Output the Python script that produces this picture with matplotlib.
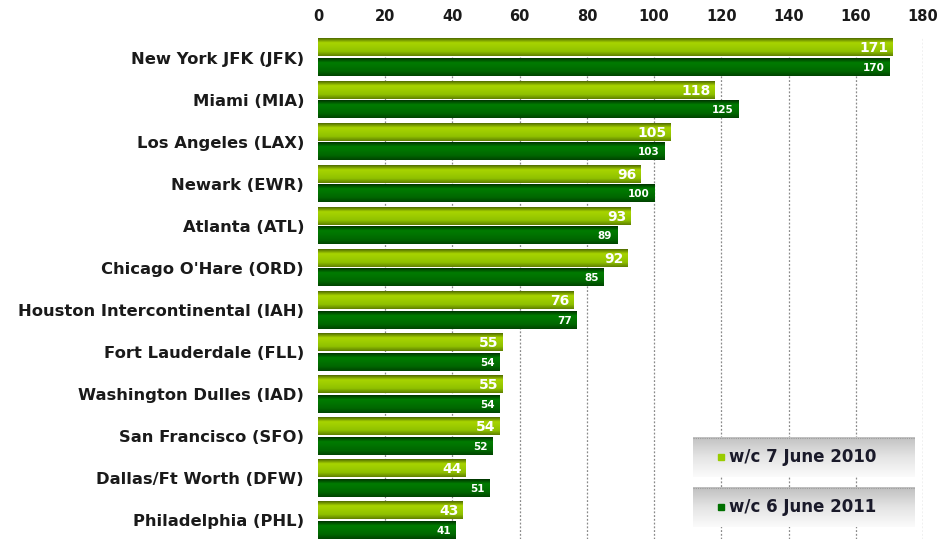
import numpy as np
import matplotlib
matplotlib.use("Agg")
import matplotlib.pyplot as plt
from matplotlib.colors import LinearSegmentedColormap

airports = ["New York JFK (JFK)", "Miami (MIA)", "Los Angeles (LAX)", "Newark (EWR)",
            "Atlanta (ATL)", "Chicago O'Hare (ORD)", "Houston Intercontinental (IAH)",
            "Fort Lauderdale (FLL)", "Washington Dulles (IAD)", "San Francisco (SFO)",
            "Dallas/Ft Worth (DFW)", "Philadelphia (PHL)"]
w2010 = [171, 118, 105, 96, 93, 92, 76, 55, 55, 54, 44, 43]
w2011 = [170, 125, 103, 100, 89, 85, 77, 54, 54, 52, 51, 41]
series_names = ["w/c 7 June 2010", "w/c 6 June 2011"]
xticks = list(range(0, 181, 20))

light_cmap = LinearSegmentedColormap.from_list(
    "light", ["#4f6a00", "#a8d400", "#9ccc00", "#8fc000", "#5f8000"])
dark_cmap = LinearSegmentedColormap.from_list(
    "dark", ["#003300", "#007c00", "#007200", "#006600", "#004400"])
grad = np.linspace(0, 1, 64).reshape(-1, 1)

W, H = 940, 539
fig = plt.figure(figsize=(W / 100, H / 100), dpi=100)
ax = fig.add_axes([318 / W, 0, (923 - 318) / W, 1 - 38 / H])

for x in xticks:
    if x > 0:
        ax.axvline(x, color="#8a8a8a", lw=0.9, ls=(0, (1.5, 1.5)), zorder=0)

h = 0.42
off = 0.235
for i, (a, b) in enumerate(zip(w2010, w2011)):
    y1 = i - off
    ax.imshow(grad, cmap=light_cmap, aspect="auto", extent=(0, a, y1 + h / 2, y1 - h / 2), zorder=2)
    ax.text(a - 1.2, y1 + 0.02, str(a), color="white", fontsize=10, fontweight="bold",
            ha="right", va="center", zorder=3)
    y2 = i + off
    ax.imshow(grad, cmap=dark_cmap, aspect="auto", extent=(0, b, y2 + h / 2, y2 - h / 2), zorder=2)
    ax.text(b - 1.5, y2 + 0.02, str(b), color="white", fontsize=7.5, fontweight="bold",
            ha="right", va="center", zorder=3)

ax.set_xlim(0, 180)
ax.set_ylim(11.45, -0.464)
ax.set_yticks(range(len(airports)))
ax.set_yticklabels(airports, fontsize=11.8, fontweight="bold", color="#1a1a1a")
ax.set_xticks(xticks)
ax.set_xticklabels([str(t) for t in xticks], fontsize=10.5, fontweight="bold", color="#1a1a1a")
ax.xaxis.tick_top()
ax.tick_params(axis="x", length=0, pad=10)
ax.tick_params(axis="y", length=0, pad=10)
for s in ax.spines.values():
    s.set_visible(False)

# legend boxes
leg_colors = ["#99cc00", "#007000"]
box_cmap = LinearSegmentedColormap.from_list("box", ["#c0c0c0", "#e4e4e4", "#fbfbfb"])
for k, (name, col) in enumerate(zip(series_names, leg_colors)):
    top = 437 + k * 50
    lax = fig.add_axes([693 / W, 1 - (top + 40) / H, 222 / W, 40 / H])
    lax.imshow(grad, cmap=box_cmap, aspect="auto", extent=(0, 1, 0, 1))
    lax.set_xlim(0, 1)
    lax.set_ylim(0, 1)
    lax.axhline(0.97, color="#9a9a9a", lw=0.8, ls=(0, (1, 1)))
    lax.plot([0.125], [0.5], marker="s", ms=5, color=col, mec=col)
    lax.text(0.16, 0.5, name, fontsize=12, fontweight="bold", color="#1a1a2a",
             ha="left", va="center")
    lax.axis("off")

fig.savefig("out.png", dpi=100)
